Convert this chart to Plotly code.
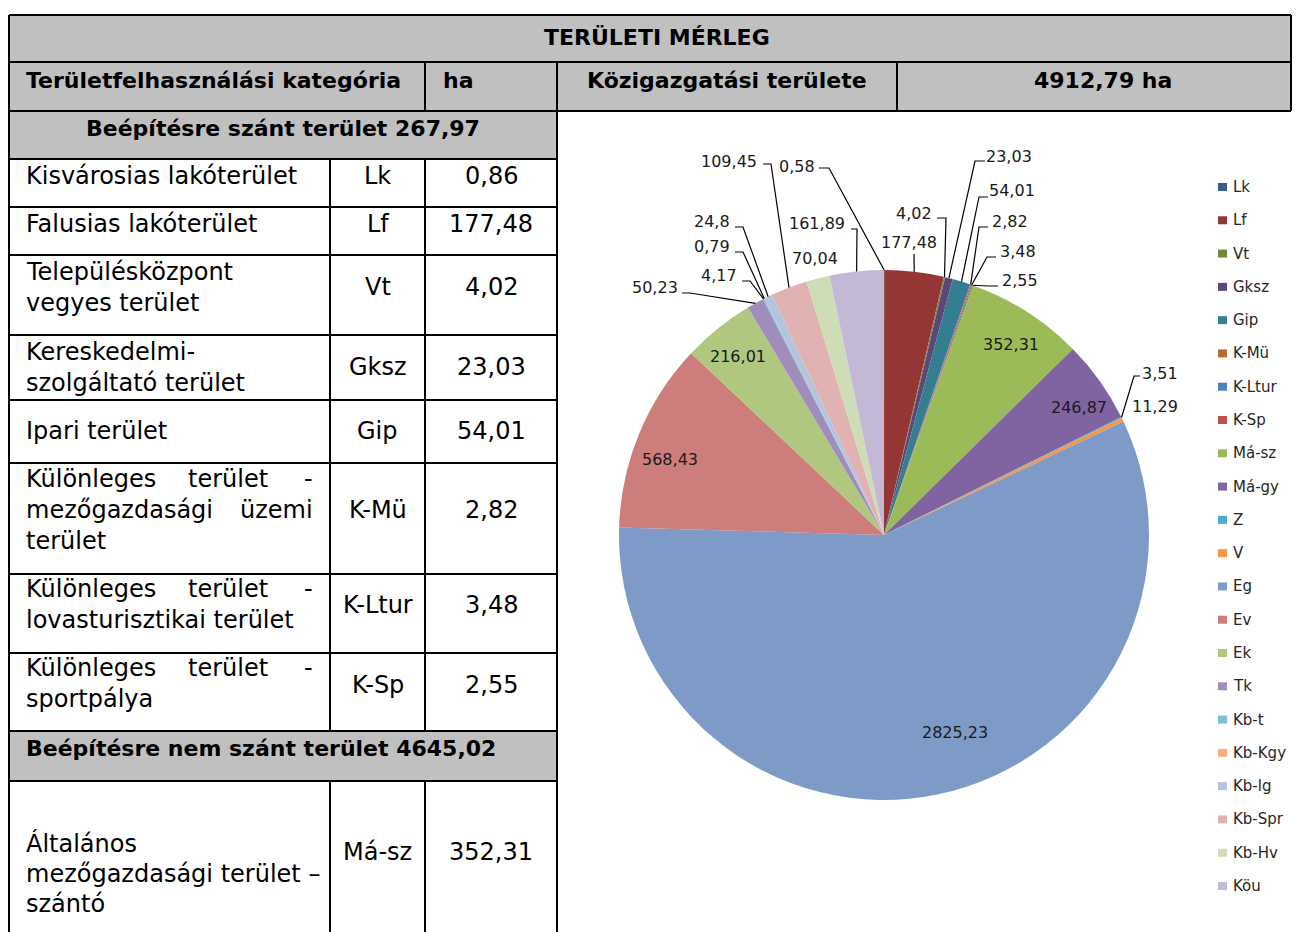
import math
import plotly.graph_objects as go

W, H = 1301, 932
OFF = 8                     # default page margin of the html body
FW, FH = W - OFF, H - OFF   # figure size so that it ends at the window edge

# ---------------- data ----------------
codes = ["Lk", "Lf", "Vt", "Gksz", "Gip", "K-Mü", "K-Ltur", "K-Sp", "Má-sz", "Má-gy", "Z", "V",
         "Eg", "Ev", "Ek", "Tk", "Kb-t", "Kb-Kgy", "Kb-lg", "Kb-Spr", "Kb-Hv", "Köu"]
pie_values = [0.58, 177.48, 4.02, 23.03, 54.01, 2.82, 3.48, 2.55, 352.31, 246.87, 3.51, 11.29,
              2825.23, 568.43, 216.01, 50.23, 4.17, 0.79, 24.8, 109.45, 70.04, 161.89]
colors = ["#385D8A", "#943634", "#71893F", "#5C4776", "#357D91", "#B66D31", "#4F81BD", "#C0504D",
          "#9BBB59", "#8064A2", "#4BACC6", "#F79646", "#7E9BC8", "#CD7D7B", "#AFC77F", "#A08DBB",
          "#7BC0D5", "#F9AE7A", "#B3C4E0", "#E0B3B2", "#CDDDB5", "#C3B9D5"]

title_text = "TERÜLETI MÉRLEG"
header_cat = "Területfelhasználási kategória"
header_unit = "ha"
admin_label = "Közigazgatási területe"
admin_total = "4912,79 ha"
built_title = "Beépítésre szánt terület 267,97"
nonbuilt_title = "Beépítésre nem szánt terület 4645,02"

# each row: list of lines; a tuple = justified line (words spread across the cell)
row_lines = [
    ["Kisvárosias lakóterület"],
    ["Falusias lakóterület"],
    ["Településközpont", "vegyes terület"],
    ["Kereskedelmi-", "szolgáltató terület"],
    ["Ipari terület"],
    [("Különleges", "terület", "-"), ("mezőgazdasági", "üzemi"), "terület"],
    [("Különleges", "terület", "-"), "lovasturisztikai terület"],
    [("Különleges", "terület", "-"), "sportpálya"],
    ["Általános", "mezőgazdasági terület –", "szántó"],
]
row_codes = ["Lk", "Lf", "Vt", "Gksz", "Gip", "K-Mü", "K-Ltur", "K-Sp", "Má-sz"]
row_ha = ["0,86", "177,48", "4,02", "23,03", "54,01", "2,82", "3,48", "2,55", "352,31"]

# ---------------- layout helpers ----------------
FONT = "DejaVu Sans"
BODY = 24
BOLD = 22


def px(x):
    return (x - OFF) / FW


def py(y):
    return 1 - (y - OFF) / FH


shapes = []
annotations = []


def rect(x0, y0, x1, y1, fill):
    shapes.append(dict(type="rect", xref="paper", yref="paper", x0=px(x0), x1=px(x1),
                       y0=py(y1), y1=py(y0), fillcolor=fill, line=dict(width=0), layer="below"))


def line(x0, y0, x1, y1, w=2, color="black"):
    shapes.append(dict(type="line", xref="paper", yref="paper", x0=px(x0), x1=px(x1),
                       y0=py(y0), y1=py(y1), line=dict(color=color, width=w)))


def text(x, y, s, size=BODY, anchor="left", bold=False, color="black"):
    annotations.append(dict(xref="paper", yref="paper", x=px(x), y=py(y), text=s, showarrow=False,
                            xanchor=anchor, yanchor="middle",
                            font=dict(family=FONT, size=size, color=color,
                                      weight="bold" if bold else "normal")))


GRAY = "#C0C0C0"
XL, XC1, XC2, XM, XA, XR = 9, 330, 425, 557, 897, 1291

# grey fills
rect(XL, 15, XR, 62, GRAY)
rect(XL, 62, XR, 111, GRAY)
rect(XL, 111, XM, 159, GRAY)
rect(XL, 731, XM, 781, GRAY)

# horizontal rules
line(XL, 15, XR, 15)
line(XL, 62, XR, 62)
line(XL, 111, XR, 111)
row_bounds = [159, 207, 255, 335, 400, 463, 574, 653, 731]
for yb in row_bounds:
    line(XL, yb, XM, yb)
line(XL, 781, XM, 781)

# vertical rules
line(XL, 15, XL, 932)
line(XR, 15, XR, 111)
line(XM, 62, XM, 932)
line(XA, 62, XA, 111)
line(XC2, 62, XC2, 111)
for xv in (XC1, XC2):
    line(xv, 159, xv, 731)
    line(xv, 781, xv, 932)

# header texts
text(657, 38, title_text, size=BOLD, anchor="center", bold=True)
text(24, 80, header_cat, size=BOLD, bold=True)
text(441, 80, header_unit, size=BOLD, bold=True)
text(727, 80, admin_label, size=BOLD, anchor="center", bold=True)
text(1103, 80, admin_total, size=BOLD, anchor="center", bold=True)
text(283, 128, built_title, size=BOLD, anchor="center", bold=True)
text(24, 748, nonbuilt_title, size=BOLD, bold=True)

# body rows
line_y = [[176], [224], [272, 303], [352, 383], [431], [479, 510, 541], [589, 620], [668, 699],
          [843, 874, 904]]
code_y = [176, 224, 287, 367, 431, 510, 605, 685, 852]
for lines, ys, code, ha, cy in zip(row_lines, line_y, row_codes, row_ha, code_y):
    for ln, yy in zip(lines, ys):
        if isinstance(ln, tuple):
            if len(ln) == 3:
                text(24, yy, ln[0])
                text(228, yy, ln[1], anchor="center")
                text(315, yy, ln[2], anchor="right")
            else:
                text(24, yy, ln[0])
                text(315, yy, ln[1], anchor="right")
        else:
            text(24, yy, ln)
    text((XC1 + XC2) / 2, cy, code, anchor="center")
    text((XC2 + XM) / 2, cy, ha, anchor="center")

# ---------------- pie ----------------
CX, CY, R = 884, 535, 265
fig = go.Figure()
fig.add_trace(go.Pie(
    values=pie_values, labels=codes, sort=False, direction="clockwise", rotation=0,
    marker=dict(colors=colors, line=dict(width=0)), textinfo="none", showlegend=False,
    domain=dict(x=[px(CX - R), px(CX + R)], y=[py(CY + R), py(CY - R)]),
    hovertemplate="%{label}: %{value}<extra></extra>",
))

total = sum(pie_values)


def edge_point(i):
    cum = sum(pie_values[:i]) + pie_values[i] / 2
    ang = math.radians(cum / total * 360)
    return CX + R * math.sin(ang), CY - R * math.cos(ang)


def fmt(v):
    return ("%g" % v).replace(".", ",")


LBL = 16
LCOL = "#1a1a1a"
# label centre positions (layout) and leader ticks (x_start, x_end, y)
label_pos = {
    "Lk": (797, 166), "Lf": (909, 243), "Vt": (914, 213), "Gksz": (1009, 157), "Gip": (1012, 191),
    "K-Mü": (1010, 221), "K-Ltur": (1018, 251), "K-Sp": (1020, 281), "Má-sz": (1011, 344),
    "Má-gy": (1079, 407), "Z": (1160, 373), "V": (1155, 406), "Eg": (955, 732), "Ev": (670, 459),
    "Ek": (738, 357), "Tk": (655, 288), "Kb-t": (719, 275), "Kb-Kgy": (712, 247),
    "Kb-lg": (712, 221), "Kb-Spr": (729, 161), "Kb-Hv": (815, 258), "Köu": (817, 223),
}
leaders = {
    "Lk": (819, 829, 168), "Lf": (914, 914, 254), "Vt": (937, 946, 218), "Gksz": (985, 975, 161),
    "Gip": (988, 979, 197), "K-Mü": (988, 979, 227), "K-Ltur": (996, 987, 257),
    "K-Sp": (998, 988, 286), "Z": (1140, 1134, 376), "Tk": (682, 690, 293),
    "Kb-t": (742, 750, 281), "Kb-Kgy": (735, 743, 252), "Kb-lg": (735, 743, 227),
    "Kb-Spr": (763, 771, 164), "Köu": (851, 857, 229),
}
for i, c in enumerate(codes):
    x, y = label_pos[c]
    text(x, y, fmt(pie_values[i]), size=LBL, anchor="center", color=LCOL)
    if c in leaders:
        xs, xe, yl = leaders[c]
        ex, ey = edge_point(i)
        path = "M %f,%f L %f,%f L %f,%f" % (px(xs), py(yl), px(xe), py(yl), px(ex), py(ey))
        shapes.append(dict(type="path", xref="paper", yref="paper", path=path,
                           line=dict(color="black", width=1.2)))

# ---------------- legend (manual) ----------------
for i, c in enumerate(codes):
    yy = 187 + i * (886 - 187) / (len(codes) - 1)
    shapes.append(dict(type="rect", xref="paper", yref="paper", x0=px(1218), x1=px(1227),
                       y0=py(yy + 4), y1=py(yy - 4), fillcolor=colors[i], line=dict(width=0)))
    text(1231, yy, c, size=15, color="#262626")

fig.update_layout(
    width=FW, height=FH, margin=dict(l=0, r=0, t=0, b=0),
    paper_bgcolor="white", plot_bgcolor="white",
    shapes=shapes, annotations=annotations,
)
fig.write_html(
    "out.html",
    post_script="document.documentElement.style.overflow='hidden';"
                "document.body.style.overflow='hidden';",
)
